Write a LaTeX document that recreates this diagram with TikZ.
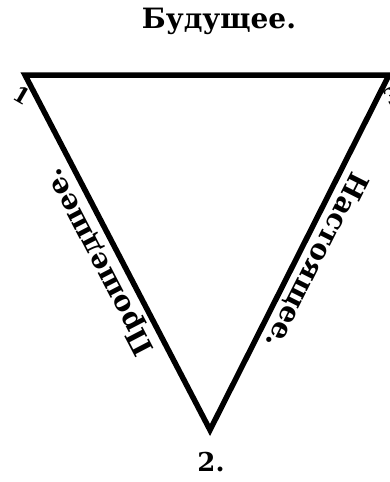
\documentclass[tikz,border=0pt]{standalone}
\usepackage{fontspec}
\setmainfont{DejaVu Serif}
\usepackage{tikz}

\begin{document}
\begin{tikzpicture}[
      x=1pt, y=-1pt,
      edge/.style={draw, line width=5.5pt, line join=miter, line cap=round},
      sidelabel/.style={font=\fontsize{28}{28}\selectfont\bfseries, sloped, allow upside down, inner sep=2pt},
      cornerlabel/.style={font=\fontsize{22}{22}\selectfont\bfseries, inner sep=0pt}
    ]
      \useasboundingbox (0,0) rectangle (390,482);
      \coordinate (V1) at (25,75);
      \coordinate (V3) at (389,75);
      \coordinate (V2) at (210,430);

      \node[font=\fontsize{28}{28}\selectfont\bfseries] (T) at (219,21) {Будущее.};
      \node[cornerlabel, rotate=-30] (L1) at (22,95) {1};
      \node[cornerlabel, rotate=30] (L3) at (392,96) {3};
      \node[cornerlabel, font=\fontsize{26}{26}\selectfont\bfseries] (L2) at (211,462) {2.};

      \draw[edge] (V1) -- (V3) -- (V2) -- cycle;
      \path (V2) -- (V1) node[sidelabel, midway, above=4pt] (P) {Прошедшее.};
      \path (V3) -- (V2) node[sidelabel, midway, above=4pt] (N) {Настоящее.};
    \end{tikzpicture}
\end{document}
